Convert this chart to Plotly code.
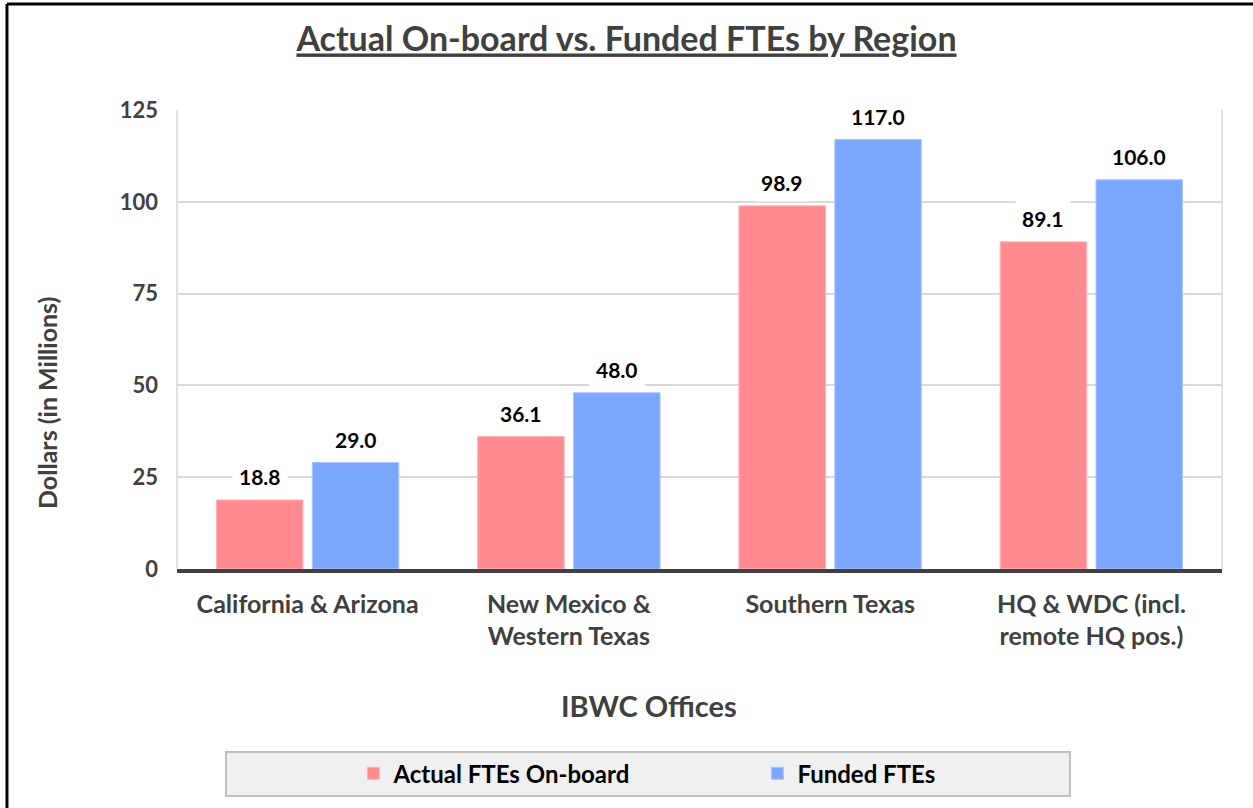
import plotly.graph_objects as go

categories = ["California & Arizona", "New Mexico &<br>Western Texas", "Southern Texas", "HQ & WDC (incl.<br>remote HQ pos.)"]
actual = [18.8, 36.1, 98.9, 89.1]
funded = [29.0, 48.0, 117.0, 106.0]
series_names = ["Actual FTEs On-board", "Funded FTEs"]
y_ticks = [0, 25, 50, 75, 100, 125]
x_title = "IBWC Offices"
y_title = "Dollars (in Millions)"
chart_title = "Actual On-board vs. Funded FTEs by Region"

FONT = "Lato"
GREY = "#404040"
RED = "#FF8B90"
BLUE = "#7CA7FF"

fig = go.Figure()
fig.add_trace(go.Bar(x=categories, y=actual, name=series_names[0],
                     marker=dict(color=RED, line=dict(color="#FFB3B6", width=1))))
fig.add_trace(go.Bar(x=categories, y=funded, name=series_names[1],
                     marker=dict(color=BLUE, line=dict(color="#A9C5FF", width=1))))

annotations = []
for vals, shift in ((actual, -48), (funded, 48)):
    for c, v in zip(categories, vals):
        annotations.append(dict(x=c, y=v, xref="x", yref="y", text=f"{v:.1f}",
                                showarrow=False, xshift=shift, yshift=23, yanchor="middle",
                                bgcolor="white", borderpad=6,
                                font=dict(family=FONT, size=21, color="black", weight="bold")))

# axis titles (positioned as in the reference, not centred on the axes)
annotations.append(dict(x=0.4517, y=-0.2963, xref="paper", yref="paper", text=x_title,
                        showarrow=False, xanchor="center", yanchor="middle",
                        font=dict(family=FONT, size=29, color=GREY, weight="bold")))
annotations.append(dict(x=-0.1244, y=0.3617, xref="paper", yref="paper", text=y_title,
                        showarrow=False, xanchor="center", yanchor="middle", textangle=-90,
                        font=dict(family=FONT, size=25, color=GREY, weight="bold")))

fig.update_layout(
    width=1253, height=808,
    margin=dict(l=177, r=31, t=110, b=239, autoexpand=False),
    paper_bgcolor="white", plot_bgcolor="white",
    font=dict(family=FONT, color=GREY),
    title=dict(text=f"<u>{chart_title}</u>",
               x=0.5, xanchor="center", y=0.951, yanchor="middle",
               font=dict(family=FONT, size=34, color=GREY, weight="bold")),
    barmode="group", bargap=0.266, bargroupgap=0.098,
    showlegend=True,
    legend=dict(orientation="h", x=0.1688, xanchor="left", y=-0.446, yanchor="middle",
                bgcolor="rgba(0,0,0,0)", entrywidth=359, entrywidthmode="pixels",
                font=dict(family=FONT, size=24, color="black", weight="bold"), itemwidth=30),
    annotations=annotations,
    shapes=[
        dict(type="rect", xref="paper", yref="paper", x0=0.0469, x1=0.8545, y0=-0.4946, y1=-0.3987,
             fillcolor="#F0F0F0", line=dict(color="#BFBFBF", width=2), layer="below"),
        dict(type="line", xref="paper", yref="paper", x0=0, x1=0, y0=0, y1=1,
             line=dict(color="#D9D9D9", width=1.5), layer="below"),
        dict(type="line", xref="paper", yref="paper", x0=1, x1=1, y0=0, y1=1,
             line=dict(color="#D9D9D9", width=1.5), layer="below"),
        dict(type="line", xref="paper", yref="paper", x0=-0.1627, x1=1.05, y0=1.231, y1=1.231,
             line=dict(color="black", width=3)),
        dict(type="line", xref="paper", yref="paper", x0=-0.1627, x1=-0.1627, y0=1.231, y1=-0.6,
             line=dict(color="black", width=3)),
    ],
)

fig.update_xaxes(
    showline=True, linecolor=GREY, linewidth=3.5,
    tickfont=dict(family=FONT, size=25, color=GREY, weight="bold"),
    ticklabelstandoff=10,
    ticks="", showgrid=False,
)
fig.update_yaxes(
    range=[0, 125], tickvals=y_ticks,
    showgrid=True, gridcolor="#D9D9D9", gridwidth=1.5, zeroline=False,
    tickfont=dict(family=FONT, size=22, color=GREY, weight="bold"),
    ticks="", ticklabelstandoff=18,
)

fig.write_html("out.html", config={"displayModeBar": False},
               post_script="document.body.style.margin='0';document.body.style.overflow='hidden';")
